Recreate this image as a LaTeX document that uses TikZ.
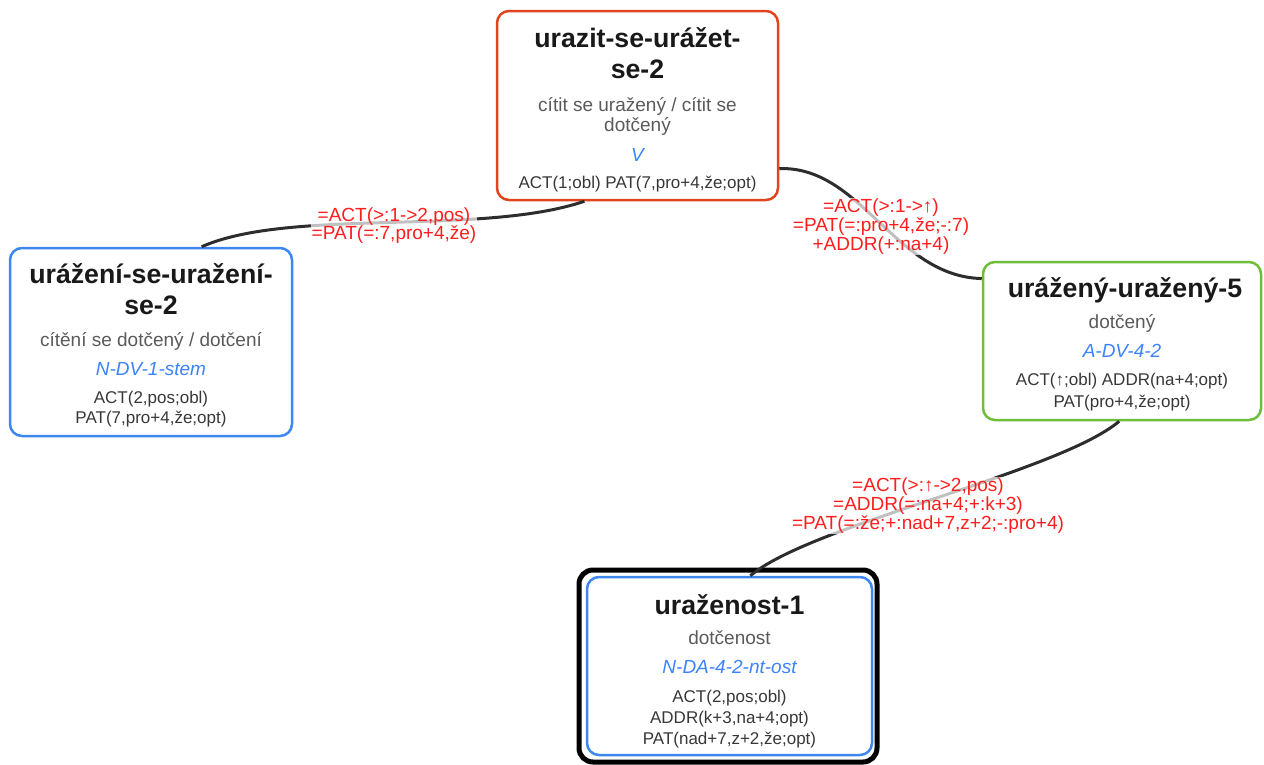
\documentclass[tikz,border=0pt]{standalone}
\usepackage{fontspec}
\setmainfont{Liberation Sans}
\definecolor{boxred}{RGB}{226,68,30}
\definecolor{boxblue}{RGB}{60,135,240}
\definecolor{boxgreen}{RGB}{110,190,60}
\definecolor{lblred}{RGB}{255,30,30}
\definecolor{txtblue}{RGB}{60,130,255}
\definecolor{txtgrey}{RGB}{90,90,90}
\definecolor{txtdark}{RGB}{55,55,55}
\definecolor{txttitle}{RGB}{25,25,25}
\definecolor{edgecol}{RGB}{45,45,45}
\tikzset{
  card/.style={draw, line width=2.5pt, rounded corners=12pt, inner sep=0pt},
  ttl/.style={anchor=base, inner sep=0pt, text=txttitle, font=\bfseries\fontsize{26.7}{31}\selectfont},
  dsc/.style={anchor=base, inner sep=0pt, text=txtgrey, font=\fontsize{19}{20}\selectfont},
  postxt/.style={anchor=base, inner sep=0pt, text=txtblue, font=\itshape\fontsize{19}{20}\selectfont},
  frm/.style={anchor=base, inner sep=0pt, text=txtdark, font=\fontsize{17}{21}\selectfont},
  lbl/.style={align=center, inner sep=1pt, text=lblred, fill=white, fill opacity=0.7, text opacity=1, font=\fontsize{19}{18.8}\selectfont},
  link/.style={draw=edgecol, line width=3pt}
}
\begin{document}
\begin{tikzpicture}[x=1pt,y=-1pt]
\useasboundingbox (0,0) rectangle (1264,764);

% boxes
\node[card, draw=boxred, minimum width=281pt, minimum height=189pt] (T) at (637.5,105.5) {};
\node[card, draw=boxblue, minimum width=282pt, minimum height=188pt] (L) at (151,342) {};
\node[card, draw=boxgreen, minimum width=278pt, minimum height=158pt] (R) at (1122,341) {};
\node[draw=black, line width=5pt, rounded corners=14pt, inner sep=0pt, minimum width=298pt, minimum height=192pt] (Bo) at (728,666) {};
\node[card, draw=boxblue, minimum width=285pt, minimum height=178pt] (B) at (729.5,666) {};

% top box text
\node[ttl] (t1) at (637.5,47) {urazit-se-urážet-};
\node[ttl] (t2) at (637.5,78) {se-2};
\node[dsc] (t3) at (637.5,111.7) {cítit se uražený / cítit se};
\node[dsc] (t4) at (637.5,131.5) {dotčený};
\node[postxt] (t5) at (637.5,161.5) {V};
\node[frm] (t6) at (637.5,188.3) {ACT(1;obl) PAT(7,pro+4,že;opt)};

% left box text
\node[ttl] (l1) at (151,283.3) {urážení-se-uražení-};
\node[ttl] (l2) at (151,314.3) {se-2};
\node[dsc] (l3) at (151,346.7) {cítění se dotčený / dotčení};
\node[postxt] (l4) at (151,375) {N-DV-1-stem};
\node[frm] (l5) at (151,403.3) {ACT(2,pos;obl)};
\node[frm] (l6) at (151,423.3) {PAT(7,pro+4,že;opt)};

% right box text
\node[ttl] (r1) at (1125,297.3) {urážený-uražený-5};
\node[dsc] (r2) at (1122,328.3) {dotčený};
\node[postxt] (r3) at (1122,357.7) {A-DV-4-2};
\node[frm] (r4) at (1122,385.7) {ACT(↑;obl) ADDR(na+4;opt)};
\node[frm] (r5) at (1122,407.7) {PAT(pro+4,že;opt)};

% bottom box text
\node[ttl] (b1) at (729.5,614.3) {uraženost-1};
\node[dsc] (b2) at (729.5,644.3) {dotčenost};
\node[postxt] (b3) at (729.5,673.3) {N-DA-4-2-nt-ost};
\node[frm] (b4) at (729.5,702.3) {ACT(2,pos;obl)};
\node[frm] (b5) at (729.5,723.3) {ADDR(k+3,na+4;opt)};
\node[frm] (b6) at (729.5,744) {PAT(nad+7,z+2,že;opt)};

% connectors
\draw[link] (L.62.5) .. controls +(88,-39) and +(-103,35) .. (T.241.3);
\draw[link] (T.-24) .. controls +(82,-3) and +(-87,-2) .. (R.156.5);
\draw[link] (R.268.6) .. controls +(-60,51) and +(60,-51) .. (B.77.2);

% connector labels
\node[lbl] (e1) at (394,225.5) {=ACT(>:1->2,pos)\\=PAT(=:7,pro+4,že)};
\node[lbl] (e2) at (881,226.4) {=ACT(>:1->↑)\\=PAT(=:pro+4,že;-:7)\\+ADDR(+:na+4)};
\node[lbl] (e3) at (928,505.7) {=ACT(>:↑->2,pos)\\=ADDR(=:na+4;+:k+3)\\=PAT(=:že;+:nad+7,z+2;-:pro+4)};
\end{tikzpicture}
\end{document}
